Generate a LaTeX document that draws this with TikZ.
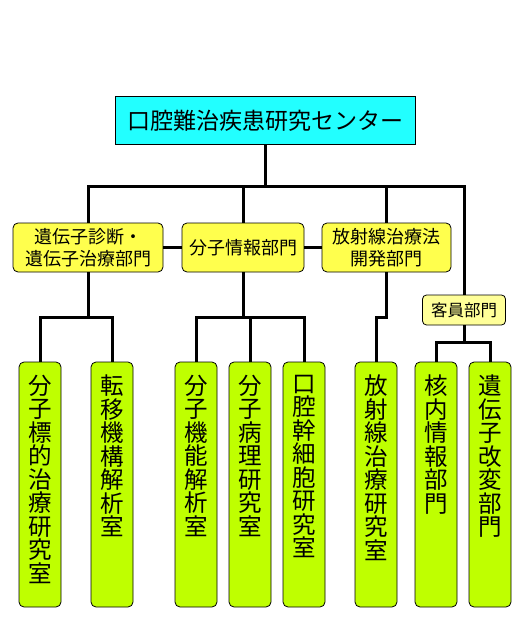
\documentclass[tikz,border=0pt]{standalone}
\usepackage{fontspec}
\setmainfont{Noto Sans CJK JP}
\usepackage{xcolor}
\usepackage{tikz}
\usetikzlibrary{positioning}

\definecolor{centercyan}{HTML}{22FFFF}
\definecolor{deptyellow}{HTML}{FFFF4D}
\definecolor{guestyellow}{HTML}{FFFF99}
\definecolor{labgreen}{HTML}{BFFF00}

\tikzset{
    centerbox/.style={draw, line width=1pt, fill=centercyan, minimum width=300pt, minimum height=48pt,
        inner sep=0pt, font=\fontsize{23}{26}\selectfont},
    deptbox/.style={draw, line width=0.8pt, rounded corners=5pt, fill=deptyellow, minimum height=49pt,
        inner sep=0pt, align=center, font=\fontsize{18}{22.5}\selectfont},
    guestbox/.style={draw, line width=0.8pt, rounded corners=4pt, fill=guestyellow, minimum width=83pt,
        minimum height=30pt, inner sep=0pt, font=\fontsize{16.5}{20}\selectfont},
    labbox/.style={draw, line width=0.8pt, rounded corners=5pt, fill=labgreen, minimum width=42pt,
        minimum height=245pt, inner sep=0pt},
    labtext/.style={inner sep=0pt, align=center, font=\fontsize{23.5}{23.5}\selectfont},
    link/.style={line width=3pt}
}

\begin{document}
\begin{tikzpicture}[x=1pt, y=-1pt]
    \useasboundingbox (0,0) rectangle (523,636);

    % Khối trung tâm
    \node[centerbox] (center) at (265,121) {口腔難治疾患研究センター};

    % Các bộ phận
    \node[deptbox, minimum width=150pt] (gene) at (88,247.5) {遺伝子診断・\\遺伝子治療部門};
    \node[deptbox, minimum width=122pt] (info) at (243,247.5) {分子情報部門};
    \node[deptbox, minimum width=129pt] (rad) at (386.5,247.5) {放射線治療法\\開発部門};
    \node[guestbox] (guest) at (464,310) {客員部門};

    % Các phòng nghiên cứu
    \foreach \x/\n/\t in {40/labA/{分\\子\\標\\的\\治\\療\\研\\究\\室},
                          112/labB/{転\\移\\機\\構\\解\\析\\室},
                          196/labC/{分\\子\\機\\能\\解\\析\\室},
                          250/labD/{分\\子\\病\\理\\研\\究\\室},
                          304/labE/{口\\腔\\幹\\細\\胞\\研\\究\\室},
                          376/labF/{放\\射\\線\\治\\療\\研\\究\\室},
                          436/labG/{核\\内\\情\\報\\部\\門},
                          490/labH/{遺\\伝\\子\\改\\変\\部\\門}} {
        \node[labbox] (\n) at (\x,484.5) {};
        \node[labtext, below=13pt of \n.north] (\n-t) {\t};
    }

    % Đường nối
    \coordinate (bus) at (265,187);
    \draw[link] (center.south) -- (bus);
    \draw[link] (gene.north) |- (bus) -| (guest.north);
    \draw[link] (info.north) -- (info.north |- bus);
    \draw[link] (rad.north) -- (rad.north |- bus);
    \draw[link] (gene.east) -- (info.west);
    \draw[link] (info.east) -- (rad.west);

    \coordinate (geneJ) at ([yshift=-45pt]gene.south);
    \coordinate (infoJ) at ([yshift=-45pt]info.south);
    \coordinate (radJ) at ([yshift=-45pt]rad.south);
    \coordinate (guestJ) at ([yshift=-17pt]guest.south);

    \draw[link] (gene.south) -- (geneJ);
    \draw[link] (labA.north) |- (geneJ) -| (labB.north);
    \draw[link] (info.south) -- (infoJ);
    \draw[link] (labC.north) |- (infoJ) -| (labE.north);
    \draw[link] (labD.north) -- (labD.north |- infoJ);
    \draw[link] (rad.south) -- (radJ) -| (labF.north);
    \draw[link] (guest.south) -- (guestJ);
    \draw[link] (labG.north) |- (guestJ) -| (labH.north);
\end{tikzpicture}
\end{document}
